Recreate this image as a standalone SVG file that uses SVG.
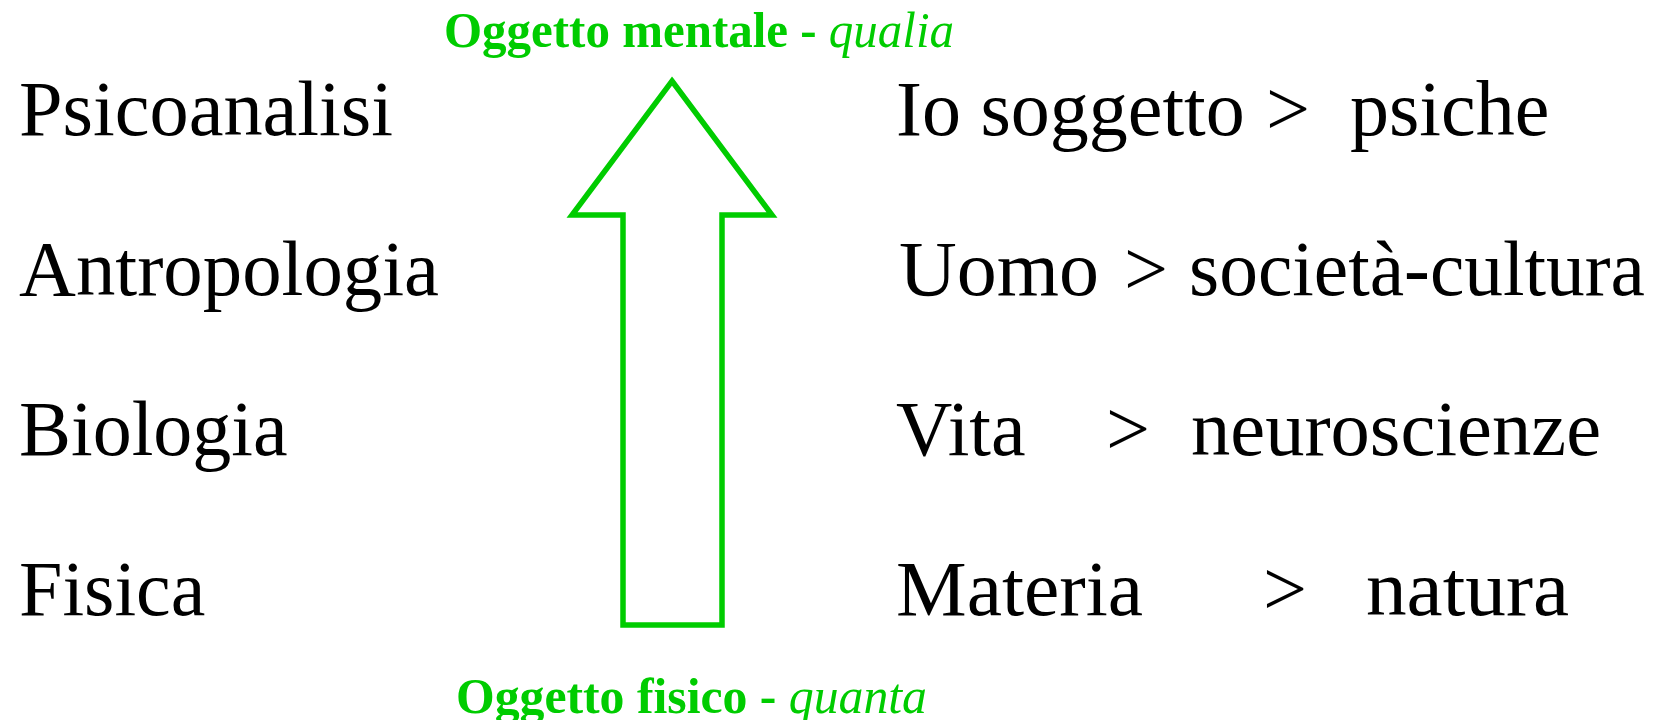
<svg xmlns="http://www.w3.org/2000/svg" width="1657" height="720" viewBox="0 0 1657 720">
<style>
.t{font-family:"Liberation Serif","Times New Roman",serif;font-size:78px;fill:#000}
.g{font-family:"Liberation Serif","Times New Roman",serif;font-size:50px;font-weight:bold;fill:#00CC00}
.i{font-style:italic;font-weight:normal}
.arrow{fill:none;stroke:#00CC00;stroke-width:5.5;stroke-linejoin:miter;stroke-miterlimit:10}
</style>
<rect width="1657" height="720" fill="#fff"/>
<g id="label-top"><text class="g" x="444" y="47" xml:space="preserve" textLength="510" lengthAdjust="spacingAndGlyphs">Oggetto mentale - <tspan class="i">qualia</tspan></text></g>
<g id="label-bottom"><text class="g" x="456" y="713" xml:space="preserve" textLength="471" lengthAdjust="spacingAndGlyphs">Oggetto fisico - <tspan class="i">quanta</tspan></text></g>
<g id="left-column">
<text id="psicoanalisi" class="t" x="19" y="135" textLength="374" lengthAdjust="spacingAndGlyphs">Psicoanalisi</text>
<text id="antropologia" class="t" x="19" y="295" textLength="420" lengthAdjust="spacingAndGlyphs">Antropologia</text>
<text id="biologia" class="t" x="19" y="455">Biologia</text>
<text id="fisica" class="t" x="19" y="615">Fisica</text>
</g>
<g id="right-column">
<text id="r1" class="t" y="135" xml:space="preserve"><tspan x="896">Io soggetto </tspan><tspan x="1266">&gt;  </tspan><tspan x="1350">psiche</tspan></text>
<text id="r2" class="t" y="295" xml:space="preserve"><tspan x="899" textLength="200" lengthAdjust="spacingAndGlyphs">Uomo</tspan><tspan> </tspan><tspan x="1124">&gt; </tspan><tspan x="1189" textLength="456" lengthAdjust="spacingAndGlyphs">società-cultura</tspan></text>
<text id="r3" class="t" y="455" xml:space="preserve"><tspan x="896">Vita    </tspan><tspan x="1106">&gt;  </tspan><tspan x="1191" textLength="410" lengthAdjust="spacingAndGlyphs">neuroscienze</tspan></text>
<text id="r4" class="t" y="615" xml:space="preserve"><tspan x="896" textLength="247" lengthAdjust="spacingAndGlyphs">Materia</tspan><tspan>      </tspan><tspan x="1263">&gt;   </tspan><tspan x="1366" textLength="203" lengthAdjust="spacingAndGlyphs">natura</tspan></text>
</g>
<g id="connectors">
<polygon class="arrow" points="672,81 772,215 722,215 722,625 623,625 623,215 572,215"/>
</g>
</svg>
